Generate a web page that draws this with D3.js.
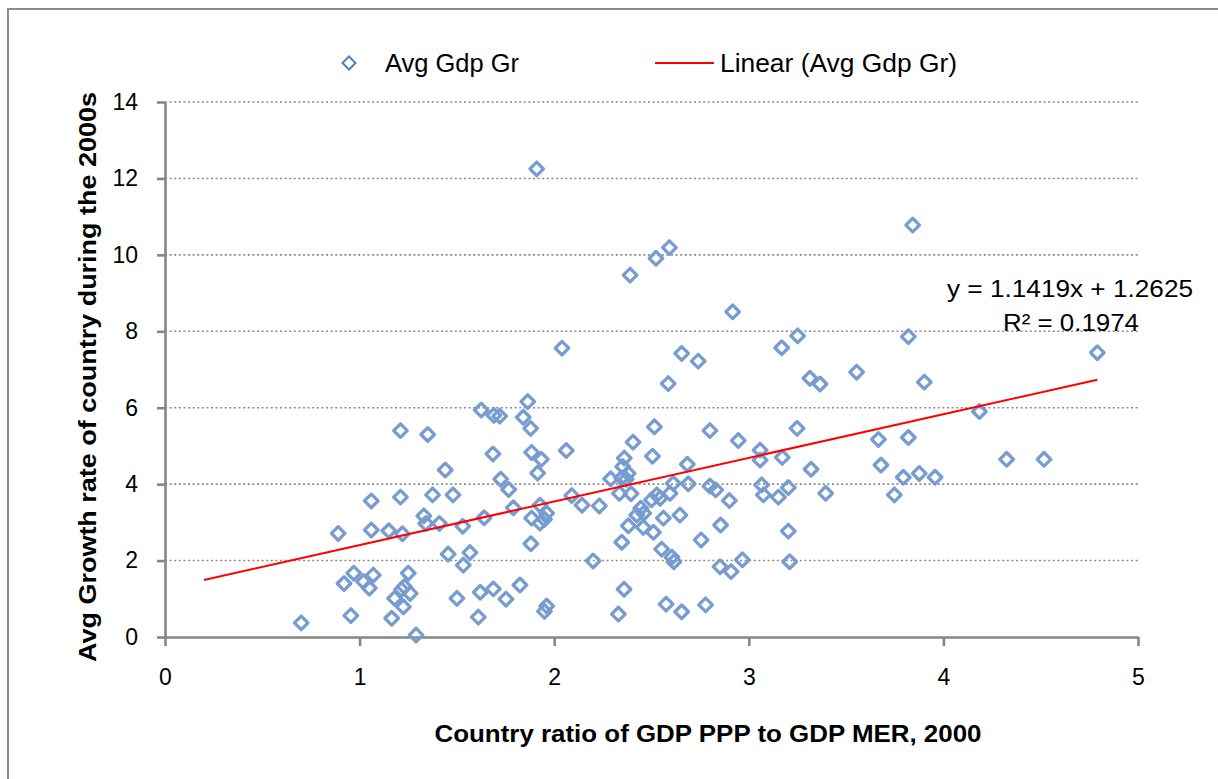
<!DOCTYPE html>
<html>
<head>
<meta charset="utf-8">
<script src="https://cdn.jsdelivr.net/npm/d3@7"></script>
<style>
  html, body { margin: 0; padding: 0; background: #fff; }
  svg { display: block; font-family: "Liberation Sans", Arial, sans-serif; }
</style>
</head>
<body>
<svg id="chart" width="1218" height="779"></svg>
<script>
// ratio of GDP PPP to GDP MER (2000), one entry per country
const xRatio = [
  0.70, 0.89, 0.92, 0.97, 0.955, 1.02, 1.06, 1.06, 1.07, 1.05,
  1.15, 1.165, 1.18, 1.21, 1.21, 1.22, 1.25, 1.23, 1.215, 1.26,
  1.225, 1.29, 1.33, 1.34, 1.35, 1.375, 1.41, 1.44, 1.455, 1.48,
  1.50, 1.53, 1.533, 1.567, 1.61, 1.62, 1.625, 1.64, 1.685, 1.687,
  1.69, 1.72, 1.725, 1.752, 1.766, 1.79, 1.824, 1.841, 1.864, 1.879,
  1.884, 1.88, 1.91, 1.915, 1.934, 1.927, 1.884, 1.961, 1.927, 1.95,
  1.961, 1.95, 2.04, 2.062, 2.09, 2.143, 2.20, 2.232, 2.29, 2.33,
  2.335, 2.347, 2.347, 2.352, 2.36, 2.359, 2.38, 2.37, 2.381, 2.39,
  2.395, 2.405, 2.424, 2.445, 2.458, 2.46, 2.50, 2.505, 2.51, 2.515,
  2.523, 2.527, 2.544, 2.552, 2.561, 2.575, 2.586, 2.592, 2.595, 2.605,
  2.615, 2.612, 2.646, 2.655, 2.655, 2.684, 2.689, 2.74, 2.755, 2.778,
  2.80, 2.80, 2.83, 2.852, 2.855, 2.90, 2.909, 2.917, 2.946, 2.967,
  3.058, 3.058, 3.066, 3.075, 3.152, 3.169, 3.172, 3.203, 3.203, 3.21,
  3.248, 3.251, 3.314, 3.32, 3.366, 3.395, 3.554, 3.666, 3.679, 3.748,
  3.794, 3.82, 3.82, 3.842, 3.876, 3.902, 3.957, 4.185, 4.325, 4.517,
  4.791
];
// average GDP growth rate in the 2000s, same order as xRatio
const avgGdpGr = [
  0.37, 2.71, 1.40, 1.67, 0.56, 1.45, 3.56, 2.80, 1.62, 1.28,
  2.78, 0.49, 1.01, 5.40, 3.66, 2.70, 1.67, 1.32, 1.24, 1.14,
  0.79, 0.05, 3.17, 2.97, 5.30, 3.72, 2.97, 4.37, 2.17, 3.72,
  1.01, 2.90, 1.88, 2.21, 0.52, 1.17, 5.94, 3.12, 4.79, 1.26,
  5.80, 5.78, 4.13, 0.99, 3.86, 3.38, 1.36, 5.75, 6.16, 5.46,
  4.83, 2.44, 12.25, 4.29, 4.65, 3.45, 3.11, 3.24, 2.98, 3.08,
  0.81, 0.67, 7.56, 4.88, 3.70, 3.45, 1.99, 3.43, 4.14, 0.60,
  3.76, 4.16, 2.48, 4.46, 4.68, 1.25, 4.28, 4.13, 2.91, 9.47,
  3.75, 5.10, 3.19, 3.37, 2.87, 3.24, 3.59, 4.73, 2.74, 5.50,
  9.91, 3.72, 3.63, 2.30, 3.11, 0.86, 6.63, 10.19, 3.76, 2.09,
  1.97, 4.02, 3.19, 0.66, 7.42, 4.52, 4.01, 7.22, 2.54, 0.84,
  5.40, 3.95, 3.85, 1.84, 2.93, 3.57, 1.71, 8.51, 5.14, 2.02,
  4.89, 4.63, 3.98, 3.72, 3.66, 7.57, 4.70, 3.91, 2.77, 1.97,
  5.46, 7.88, 6.77, 4.39, 6.62, 3.76, 6.93, 5.17, 4.50, 3.72,
  4.18, 5.22, 7.86, 10.78, 4.28, 6.67, 4.18, 5.90, 4.65, 4.65,
  7.44
];

// linear trendline as reported by the spreadsheet
const trendSlope = 1.1419;
const trendIntercept = 1.2625;
const trendR2 = 0.1974;
const trendBackward = 0.5;

const xTicks = [0, 1, 2, 3, 4, 5];
const yTicks = [0, 2, 4, 6, 8, 10, 12, 14];

const seriesName = "Avg Gdp Gr";
const xTitle = "Country ratio of GDP PPP to GDP MER, 2000";
const yTitle = "Avg Growth rate of country during the 2000s";

const settings = {
  left: 165, right: 1138, top: 102, bottom: 637,
  markerColor: "#769cd1",
  lineColor: "#ff0000",
  axisColor: "#868686",
  gridColor: "#8a8a8a",
  fontSize: 23
};

const svg = d3.select("#chart");

// outer chart border
svg.append("rect")
  .attr("x", 8).attr("y", 9)
  .attr("width", 1400).attr("height", 900)
  .style("fill", "none")
  .style("stroke", "#8c8c8c")
  .style("stroke-width", 2);

const x = d3.scaleLinear().domain([0, 5]).range([settings.left, settings.right]);
const y = d3.scaleLinear().domain([0, 14]).range([settings.bottom, settings.top]);

// gridlines
svg.append("g").attr("class", "grid")
  .selectAll("line")
  .data(yTicks.filter(d => d > 0))
  .join("line")
  .attr("x1", x(0)).attr("x2", x(5))
  .attr("y1", d => y(d)).attr("y2", d => y(d))
  .style("stroke", settings.gridColor)
  .style("stroke-width", 1.6)
  .style("stroke-dasharray", "2,2.6");

// axes
const yAxis = svg.append("g")
  .attr("class", "y axis")
  .attr("transform", `translate(${x(0)},0)`)
  .call(d3.axisLeft(y).tickValues(yTicks).tickFormat(d3.format("d"))
    .tickSizeInner(8).tickSizeOuter(0).tickPadding(19));

const xAxis = svg.append("g")
  .attr("class", "x axis")
  .attr("transform", `translate(0,${y(0)})`)
  .call(d3.axisBottom(x).tickValues(xTicks).tickFormat(d3.format("d"))
    .tickSizeInner(9).tickSizeOuter(0).tickPadding(23));

[xAxis, yAxis].forEach(ax => {
  ax.select(".domain").style("stroke", settings.axisColor).style("stroke-width", 2.6);
  ax.selectAll(".tick line").style("stroke", settings.axisColor).style("stroke-width", 2.6);
  ax.selectAll(".tick text")
    .style("font-family", "Liberation Sans, Arial, sans-serif")
    .style("font-size", settings.fontSize + "px")
    .style("fill", "#000");
});

// markers
const diamond = r => `M0,${-r}L${r},0L0,${r}L${-r},0Z`;
const points = xRatio.map((v, i) => ({ x: v, y: avgGdpGr[i] }));

svg.append("g").attr("class", "points")
  .selectAll("path")
  .data(points)
  .join("path")
  .attr("d", diamond(6.8))
  .attr("transform", d => `translate(${x(d.x)},${y(d.y)})`)
  .style("fill", "none")
  .style("stroke", settings.markerColor)
  .style("stroke-width", 3.3)
  .style("stroke-linejoin", "round");

// trendline
const x0 = d3.min(xRatio) - trendBackward;
const x1 = d3.max(xRatio);
svg.append("line")
  .attr("class", "trend")
  .attr("x1", x(x0)).attr("y1", y(trendSlope * x0 + trendIntercept))
  .attr("x2", x(x1)).attr("y2", y(trendSlope * x1 + trendIntercept))
  .style("stroke", settings.lineColor)
  .style("stroke-width", 2);

// trendline equation
const eq = svg.append("g").attr("class", "equation")
  .style("font-size", "24px").style("fill", "#000").attr("text-anchor", "middle");
eq.append("text")
  .attr("x", 1070).attr("y", 297)
  .attr("textLength", 246).attr("lengthAdjust", "spacingAndGlyphs")
  .text(`y = ${trendSlope}x + ${trendIntercept}`);
eq.append("text")
  .attr("x", 1071).attr("y", 331)
  .attr("textLength", 136).attr("lengthAdjust", "spacingAndGlyphs")
  .text(`R² = ${trendR2}`);

// legend
const legend = svg.append("g").attr("class", "legend")
  .style("font-size", "25px").style("fill", "#000");
legend.append("path")
  .attr("d", diamond(6.5))
  .attr("transform", "translate(349,63)")
  .style("fill", "none")
  .style("stroke", "#4f81bd")
  .style("stroke-width", 2);
legend.append("text")
  .attr("x", 385).attr("y", 72)
  .attr("textLength", 134).attr("lengthAdjust", "spacingAndGlyphs")
  .text(seriesName);
legend.append("line")
  .attr("x1", 655).attr("x2", 714)
  .attr("y1", 63).attr("y2", 63)
  .style("stroke", settings.lineColor)
  .style("stroke-width", 2);
legend.append("text")
  .attr("x", 720).attr("y", 72)
  .attr("textLength", 237).attr("lengthAdjust", "spacingAndGlyphs")
  .text(`Linear (${seriesName})`);

// axis titles
svg.append("text")
  .attr("class", "axisLabel")
  .attr("x", 708).attr("y", 742)
  .attr("text-anchor", "middle")
  .attr("textLength", 547).attr("lengthAdjust", "spacingAndGlyphs")
  .style("font-size", "23px").style("font-weight", "bold")
  .text(xTitle);

svg.append("text")
  .attr("class", "axisLabel")
  .attr("transform", "translate(96,377) rotate(-90)")
  .attr("text-anchor", "middle")
  .attr("textLength", 570).attr("lengthAdjust", "spacingAndGlyphs")
  .style("font-size", "23px").style("font-weight", "bold")
  .text(yTitle);
</script>
</body>
</html>
